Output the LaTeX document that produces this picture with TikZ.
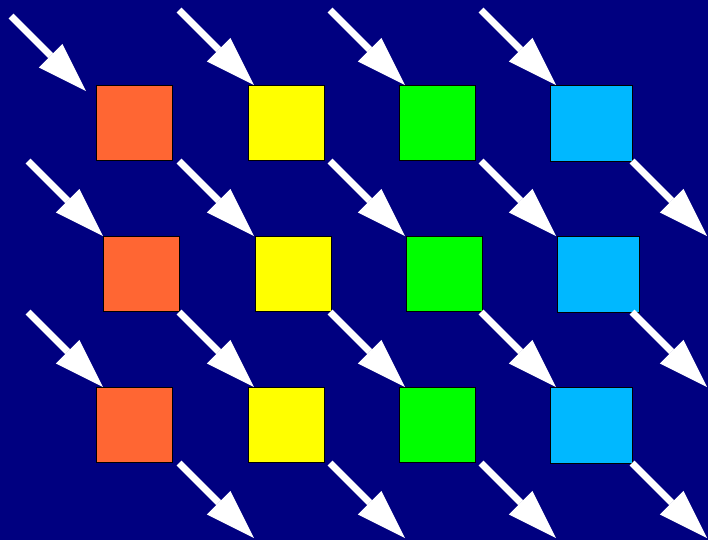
\documentclass[tikz,border=0pt]{standalone}
\usetikzlibrary{arrows.meta}
\definecolor{navy}{RGB}{0,0,128}
\definecolor{tileorange}{RGB}{255,102,51}
\definecolor{tileyellow}{RGB}{255,255,0}
\definecolor{tilegreen}{RGB}{0,255,0}
\definecolor{tilecyan}{RGB}{0,184,255}
\tikzset{
  tile/.style={draw=black, line width=0.9pt, inner sep=0pt, anchor=north west,
    minimum width=57pt, minimum height=56.25pt},
  ray/.style={draw=white, line width=5.25pt,
    -{Triangle[length=37.5pt,width=25pt,line width=0pt]}}
}
\begin{document}
\begin{tikzpicture}[x=0.75pt,y=-0.75pt]
    % Nền
    \fill[navy] (0,0) rectangle (708,540);
    \useasboundingbox (0,0) rectangle (708,540);

    % Các ô vuông, hàng giữa lệch sang phải
    \foreach \r/\y/\dx in {1/85/0,2/236/7,3/387/0}{
        \node[tile,fill=tileorange] (o\r) at (96+\dx,\y) {};
        \node[tile,fill=tileyellow] (y\r) at (248+\dx,\y) {};
        \node[tile,fill=tilegreen] (g\r) at (399+\dx,\y) {};
        \node[tile,fill=tilecyan,minimum width=61.5pt,minimum height=57pt] (c\r) at (550+\dx,\y) {};
    }

    % Mũi tên hàng trên
    \draw[ray] (11,16) -- (86,91);
    \foreach \x in {254,405,556}
    \draw[ray] (\x-75,10) -- (\x,85);

    % Mũi tên giữa các hàng
    \foreach \y in {236,387}
    \foreach \x in {103,254,405,556,707}
    \draw[ray] (\x-75,\y-75) -- (\x,\y);

    % Mũi tên hàng dưới
    \foreach \x in {254,405,556,707}
    \draw[ray] (\x-75,463) -- (\x,538);
\end{tikzpicture}
\end{document}
